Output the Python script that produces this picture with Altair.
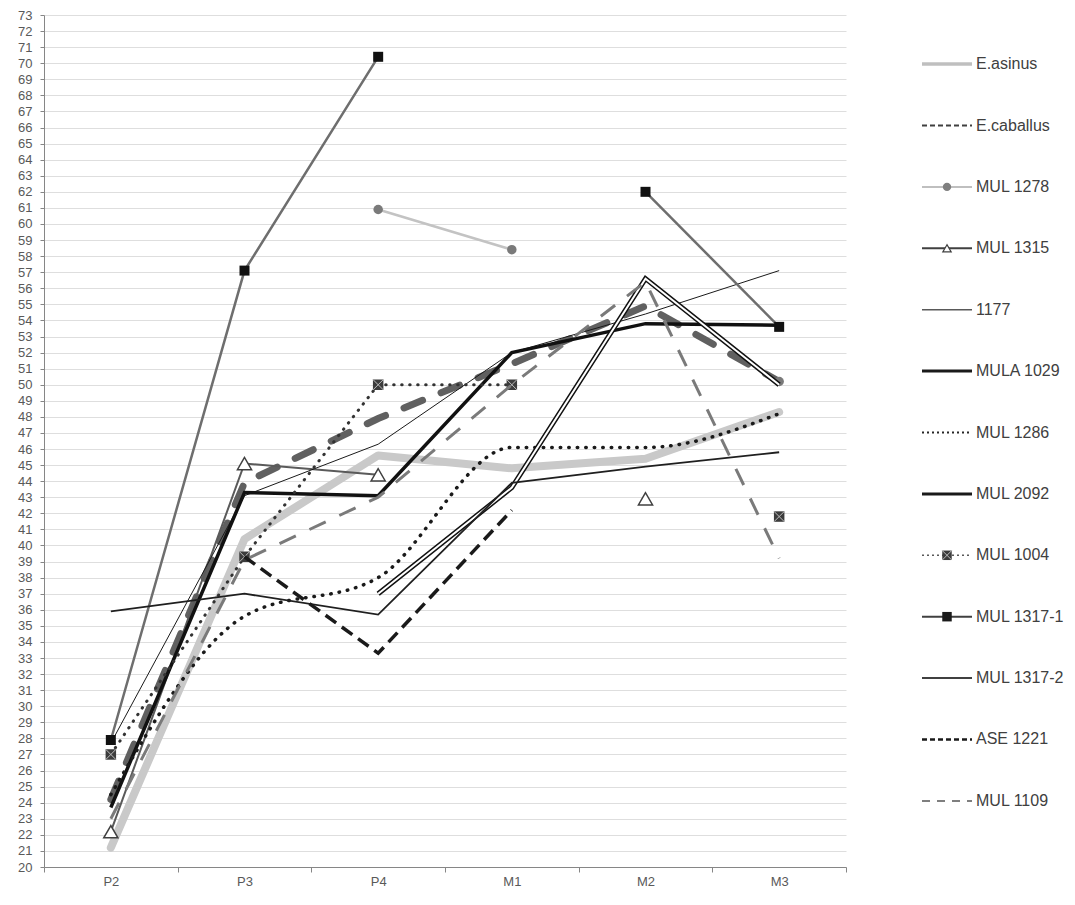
import altair as alt
import pandas as pd

teeth = ["P2", "P3", "P4", "M1", "M2", "M3"]
y_ticks = list(range(20, 74))

series_names = ["E.asinus", "E.caballus", "MUL 1278", "MUL 1315", " 1177", "MULA 1029",
                "MUL 1286", "MUL 2092", "MUL 1004", "MUL 1317-1", "MUL 1317-2",
                "ASE 1221", "MUL 1109"]

e_asinus   = [21.2, 40.4, 45.6, 44.8, 45.4, 48.3]
e_caballus = [24.2, 43.9, 47.9, 51.3, 54.9, 50.2]
mul_1278   = [None, None, 60.9, 58.4, None, 50.2]
mul_1315   = [22.2, 45.1, 44.4, None, 42.9, None]
s_1177     = [27.7, 43.1, 46.3, 52.0, 54.4, 57.1]
mula_1029  = [23.7, 43.3, 43.1, 52.0, 53.8, 53.7]
mul_1286   = [24.5, 35.6, 38.0, 46.1, 46.1, 48.2]
mul_2092   = [None, None, 37.0, 43.6, 56.6, 50.0]
mul_1004   = [27.0, 39.3, 50.0, 50.0, None, 41.8]
mul_1317_1 = [27.9, 57.1, 70.4, None, 62.0, 53.6]
mul_1317_2 = [35.9, 37.0, 35.7, 43.9, 44.9, 45.8]
ase_1221   = [None, 39.3, 33.3, 42.2, None, None]
mul_1109   = [23.0, 39.1, 43.0, 50.0, 56.4, 39.2]

series_values = [e_asinus, e_caballus, mul_1278, mul_1315, s_1177, mula_1029,
                 mul_1286, mul_2092, mul_1004, mul_1317_1, mul_1317_2, ase_1221, mul_1109]

rows = []
for name, vals in zip(series_names, series_values):
    seg, prev = 0, False
    for t, v in zip(teeth, vals):
        if v is None:
            if prev:
                seg += 1
            prev = False
            continue
        rows.append({"series": name, "tooth": t, "value": v, "seg": f"{name}-{seg}"})
        prev = True
df = pd.DataFrame(rows)

AX = "#868686"
X = alt.X("tooth:N", sort=teeth,
          scale=alt.Scale(type="band", domain=teeth, paddingInner=0, paddingOuter=0),
          bandPosition=0.5,
          axis=alt.Axis(title=None, tickBand="extent", labelAngle=0, domainColor=AX,
                        tickColor=AX, tickSize=5, labelPadding=3, labelFontSize=13,
                        labelColor="#595959", labelFont="Liberation Sans", grid=False))
Y = alt.Y("value:Q", scale=alt.Scale(domain=[20, 73], nice=False, zero=False),
          axis=alt.Axis(title=None, values=y_ticks, domainColor=AX, tickColor=AX, tickSize=4,
                        labelPadding=8, labelFontSize=13, labelColor="#595959",
                        labelFont="Liberation Sans", gridColor="#dedede", gridWidth=1,
                        minExtent=36, maxExtent=36))

line_styles = {
    "E.asinus":   [dict(color="#c9c9c9", strokeWidth=8, strokeCap="round", strokeJoin="round")],
    "E.caballus": [dict(color="#606060", strokeWidth=7, strokeCap="round", strokeDash=[20, 20])],
    "MUL 1278":   [dict(color="#c3c3c3", strokeWidth=2.5)],
    "MUL 1315":   [dict(color="#5a5a5a", strokeWidth=2)],
    " 1177":      [dict(color="#1a1a1a", strokeWidth=1)],
    "MULA 1029":  [dict(color="#111111", strokeWidth=3.5)],
    "MUL 1286":   [dict(color="#1a1a1a", strokeWidth=3.5, strokeCap="round", strokeDash=[0.5, 8], interpolate="monotone")],
    "MUL 2092":   [dict(color="#111111", strokeWidth=5), dict(color="#ffffff", strokeWidth=2)],
    "MUL 1004":   [dict(color="#333333", strokeWidth=3, strokeCap="round", strokeDash=[0.5, 7.5])],
    "MUL 1317-1": [dict(color="#6e6e6e", strokeWidth=2.5)],
    "MUL 1317-2": [dict(color="#1f1f1f", strokeWidth=1.8)],
    "ASE 1221":   [dict(color="#1a1a1a", strokeWidth=3.5, strokeDash=[13, 7])],
    "MUL 1109":   [dict(color="#7a7a7a", strokeWidth=3, strokeDash=[18, 15])],
}
XPATH = "M-1,-1L1,1M-1,1L1,-1"
marker_styles = {
    "MUL 1278":   [dict(shape="circle", filled=True, color="#7a7a7a", size=90, opacity=1)],
    "MUL 1315":   [dict(shape="triangle-up", filled=True, fill="white", stroke="#404040", strokeWidth=1.5, size=200, opacity=1)],
    "MUL 1004":   [dict(shape="square", filled=True, color="#3c3c3c", size=110, opacity=1),
                   dict(shape=XPATH, filled=False, stroke="#bdbdbd", strokeWidth=1, size=110, opacity=1)],
    "MUL 1317-1": [dict(shape="square", filled=True, color="#111111", size=100, opacity=1)],
}

layers = []
for name in series_names:
    base = alt.Chart(df).transform_filter(alt.datum.series == name)
    for st in line_styles[name]:
        layers.append(base.mark_line(**st).encode(x=X, y=Y, detail="seg:N"))
    for st in marker_styles.get(name, []):
        layers.append(base.mark_point(**st).encode(x=X, y=Y))

main = alt.layer(*layers).properties(width=802, height=852)

# legend panel
leg_line_styles = {
    "E.asinus":   [dict(color="#bfbfbf", strokeWidth=3.5)],
    "E.caballus": [dict(color="#404040", strokeWidth=2, strokeDash=[5, 3])],
    "MUL 1278":   [dict(color="#bfbfbf", strokeWidth=2)],
    "MUL 1315":   [dict(color="#404040", strokeWidth=2)],
    " 1177":      [dict(color="#595959", strokeWidth=1.5)],
    "MULA 1029":  [dict(color="#1a1a1a", strokeWidth=3)],
    "MUL 1286":   [dict(color="#262626", strokeWidth=2, strokeDash=[2, 3])],
    "MUL 2092":   [dict(color="#1a1a1a", strokeWidth=3)],
    "MUL 1004":   [dict(color="#595959", strokeWidth=1.5, strokeDash=[2, 3])],
    "MUL 1317-1": [dict(color="#404040", strokeWidth=2)],
    "MUL 1317-2": [dict(color="#404040", strokeWidth=2)],
    "ASE 1221":   [dict(color="#1a1a1a", strokeWidth=2.5, strokeDash=[5, 3])],
    "MUL 1109":   [dict(color="#7f7f7f", strokeWidth=2, strokeDash=[8, 7])],
}
leg_marker_styles = {
    "MUL 1278":   [dict(shape="circle", filled=True, color="#7f7f7f", size=70, opacity=1)],
    "MUL 1315":   [dict(shape="triangle-up", filled=True, fill="white", stroke="#404040", strokeWidth=1.2, size=70, opacity=1)],
    "MUL 1004":   [dict(shape="square", filled=True, color="#3c3c3c", size=90, opacity=1),
                   dict(shape=XPATH, filled=False, stroke="#bdbdbd", strokeWidth=1, size=90, opacity=1)],
    "MUL 1317-1": [dict(shape="square", filled=True, color="#1a1a1a", size=90, opacity=1)],
}
leg_rows = []
for name in series_names:
    leg_rows.append({"series": name, "lx": 0.0, "role": "line"})
    leg_rows.append({"series": name, "lx": 1.0, "role": "line"})
    leg_rows.append({"series": name, "lx": 0.5, "role": "mark"})
    leg_rows.append({"series": name, "lx": 1.08, "role": "text"})
ldf = pd.DataFrame(leg_rows)

LX = alt.X("lx:Q", scale=alt.Scale(domain=[0, 2.6]), axis=None)
LY = alt.Y("series:N", sort=series_names,
           scale=alt.Scale(type="point", domain=series_names, padding=0.8), axis=None)

leg_layers = []
for name in series_names:
    b = alt.Chart(ldf).transform_filter(alt.datum.series == name)
    for st in leg_line_styles[name]:
        leg_layers.append(b.transform_filter(alt.datum.role == "line").mark_line(**st).encode(x=LX, y=LY))
    for st in leg_marker_styles.get(name, []):
        leg_layers.append(b.transform_filter(alt.datum.role == "mark").mark_point(**st).encode(x=LX, y=LY))
leg_layers.append(
    alt.Chart(ldf).transform_filter(alt.datum.role == "text")
    .mark_text(align="left", baseline="middle", font="Liberation Sans", fontSize=16, color="#404040")
    .encode(x=LX, y=LY, text="series:N"))
legend = alt.layer(*leg_layers).properties(width=130, height=835)

chart = (alt.hconcat(main, legend, spacing=68)
         .configure_view(stroke=None)
         .properties(padding={"left": 0, "top": 1, "right": 0, "bottom": 0}))

chart.save("out.html", embed_options={"renderer": "svg", "actions": False})
